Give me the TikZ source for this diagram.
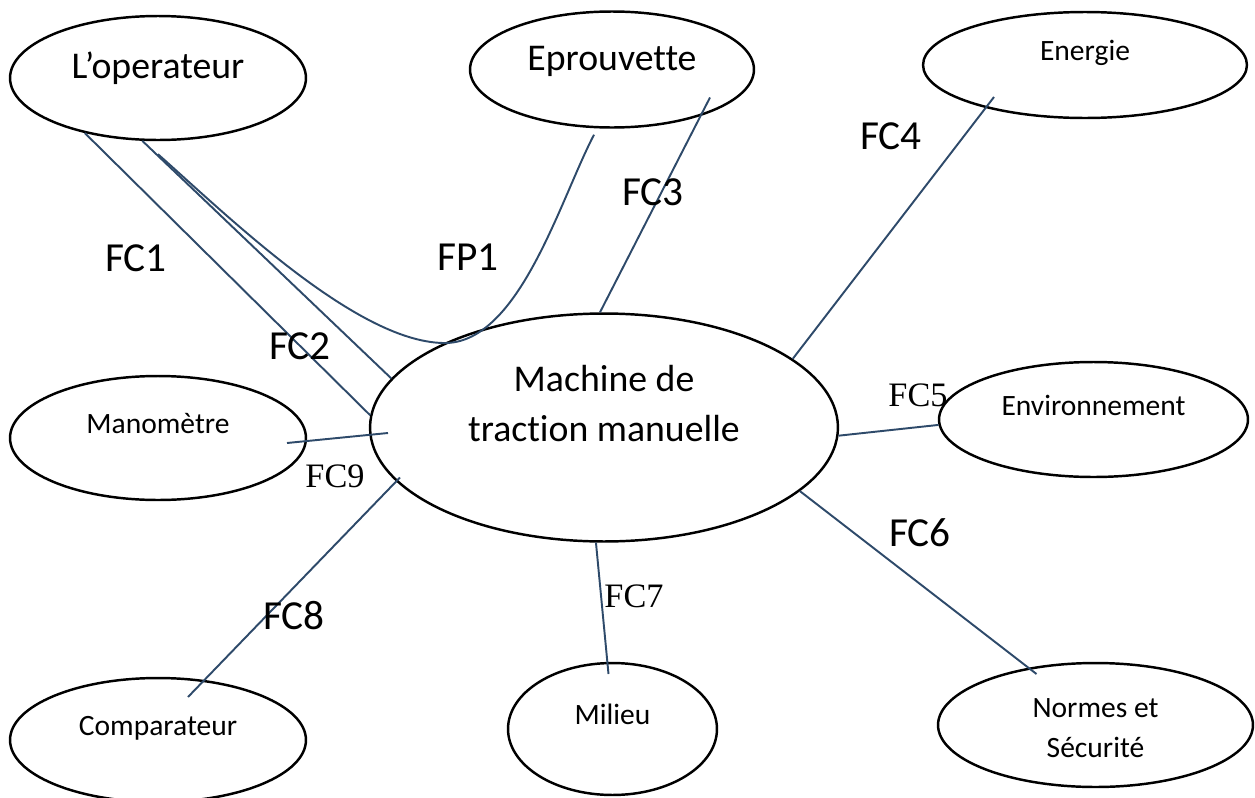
\documentclass[tikz,border=0pt]{standalone}
\usepackage{fontspec}
\setmainfont{Carlito}[Ligatures=NoCommon]
\newfontfamily\fcserif{Liberation Serif}
\usetikzlibrary{calc,shapes.geometric}
\definecolor{fcline}{RGB}{46,74,106}

\begin{document}
\begin{tikzpicture} [x=0.02cm, y=-0.02cm, %
  ell/.style={ellipse, draw=black, line width=1.4pt, inner sep=0pt}, %
  bigtxt/.style={font=\fontsize{21.5}{26}\selectfont, text height=14pt, text depth=13pt}, %
  smalltxt/.style={font=\fontsize{16.8}{22.7}\selectfont, text height=12pt, text depth=17pt}, %
  fc/.style={font=\fontsize{23.5}{27}\selectfont}, %
  fcs/.style={font=\fontsize{19.5}{24}\fcserif}, %
  lnk/.style={draw=fcline, line width=1.1pt}] %
\useasboundingbox (0,0) rectangle (1255,798); %
 %
\node [ell, bigtxt, minimum width=5.92cm, minimum height=2.48cm] (op) at (158,78) {L’operateur}; %
\node [ell, bigtxt, minimum width=5.68cm, minimum height=2.32cm] (epr) at (612,69.5) {Eprouvette}; %
\node [ell, smalltxt, minimum width=6.48cm, minimum height=2.12cm] (ene) at (1085,65) {Energie}; %
\node [ell, font=\fontsize{21.5}{28.9}\selectfont, align=center, text height=42pt, text depth=25.6pt, %
  minimum width=9.36cm, minimum height=4.56cm] (mach) at (604,427.5) {Machine de\\traction manuelle}; %
\node [ell, smalltxt, minimum width=5.92cm, minimum height=2.48cm] (mano) at (158,438) {Manomètre}; %
\node [ell, smalltxt, minimum width=5.92cm, minimum height=2.48cm] (comp) at (158,740) {Comparateur}; %
\node [ell, smalltxt, minimum width=4.18cm, minimum height=2.64cm] (mil) at (612.5,729) {Milieu}; %
\node [ell, smalltxt, minimum width=6.18cm, minimum height=2.30cm] (env) at (1093.5,419.5) {Environnement}; %
\node [ell, smalltxt, align=center, text height=40pt, text depth=2.6pt, %
  minimum width=6.30cm, minimum height=2.48cm] (nor) at (1095.5,725) {Normes et\\Sécurité}; %
 %
\draw [lnk] (op.217) -- (mach.177); %
\draw [lnk] (op.256) -- (mach.167); %
\draw [lnk] ($(op.south)+(0,13)$) .. controls (230,218) and (360,345) .. (447,343) %
  .. controls (520,340) and (560,200) .. ($(epr.south)+(-18,6)$); %
\draw [lnk] ($(epr)+(98,28)$) -- (mach.92); %
\draw [lnk] ($(ene)+(-91,32)$) -- (mach.20); %
\draw [lnk] (mach.-2) -- (env.182); %
\draw [lnk] (mach.-18) -- ($(nor)+(-59,-51)$); %
\draw [lnk] (mach.-94) -- ($(mil)+(-4,-55)$); %
\draw [lnk] ($(mach)+(-204,50)$) -- ($(comp)+(30,-43)$); %
\draw [lnk] ($(mano)+(129,5)$) -- ($(mach)+(-216,5.5)$); %
 %
\node [fc] (fc1) at (136,258) {FC1}; %
\node [fc] (fc2) at (300,346) {FC2}; %
\node [fc] (fp1) at (468,257) {FP1}; %
\node [fc] (fc3) at (653,192) {FC3}; %
\node [fc] (fc4) at (891,136) {FC4}; %
\node [fcs] (fc5) at (918,395) {FC5}; %
\node [fc] (fc6) at (920,533) {FC6}; %
\node [fcs] (fc7) at (634,596) {FC7}; %
\node [fc] (fc8) at (294,616) {FC8}; %
\node [fcs] (fc9) at (335,476) {FC9}; %
\end{tikzpicture}
\end{document}
